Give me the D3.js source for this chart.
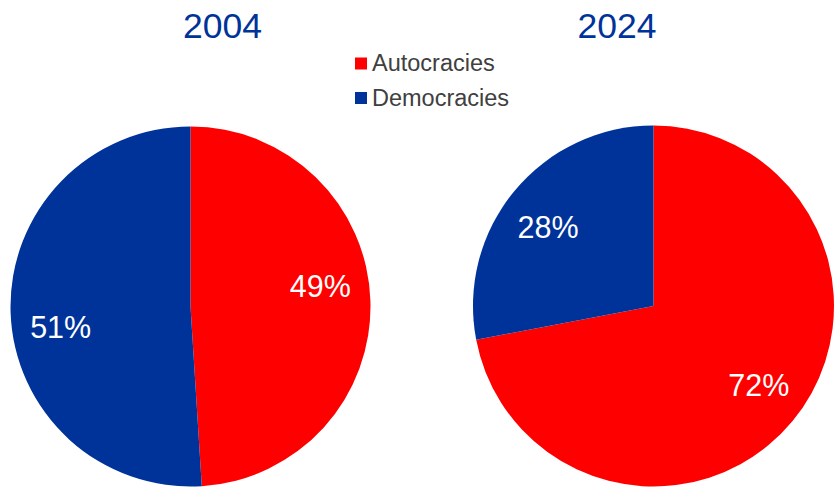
<!DOCTYPE html>
<html>
<head>
<meta charset="utf-8">
<script src="https://cdn.jsdelivr.net/npm/d3@7"></script>
<style>
  html, body { margin: 0; padding: 0; background: #ffffff; }
  svg { display: block; font-family: "Liberation Sans", Arial, sans-serif; }
</style>
</head>
<body>
<svg id="chart" width="836" height="493"></svg>
<script>
// ---- data ----
const years = ["2004", "2024"];
const categories = ["Autocracies", "Democracies"];
const shares2004 = [49, 51];
const shares2024 = [72, 28];
const colors = ["#ff0000", "#003399"];

// ---- layout ----
const svg = d3.select("#chart");
const pies = [
  { year: years[0], values: shares2004, cx: 190.5, cy: 306.5, r: 180, titleX: 222.5, labelShift: -7 },
  { year: years[1], values: shares2024, cx: 653.5, cy: 306, r: 180.5, titleX: 617, labelShift: -2.7 }
];

const color = d3.scaleOrdinal().domain(categories).range(colors);
const pie = d3.pie().sort(null).value(d => d.value);

pies.forEach(p => {
  const data = categories.map((c, i) => ({ cat: c, value: p.values[i] }));
  const arcs = pie(data);
  const arc = d3.arc().innerRadius(0).outerRadius(p.r);
  const g = svg.append("g").attr("transform", `translate(${p.cx},${p.cy})`);
  g.selectAll("path").data(arcs).join("path")
    .attr("d", arc)
    .attr("fill", d => color(d.data.cat));

  const lr = p.r * 0.73;
  const shift = p.labelShift * Math.PI / 180;
  g.selectAll("text.lbl").data(arcs).join("text")
    .attr("class", "lbl")
    .attr("x", d => lr * Math.sin((d.startAngle + d.endAngle) / 2 + shift))
    .attr("y", d => -lr * Math.cos((d.startAngle + d.endAngle) / 2 + shift))
    .attr("dy", "0.36em")
    .attr("text-anchor", "middle")
    .attr("fill", "#ffffff")
    .attr("font-size", 30.5)
    .text(d => d.data.value + "%");

  svg.append("text")
    .attr("x", p.titleX)
    .attr("y", 37.5)
    .attr("text-anchor", "middle")
    .attr("fill", "#003399")
    .attr("font-size", 35.5)
    .text(p.year);
});

// ---- legend ----
const legend = svg.append("g");
const legendY = [71, 105.5];
categories.forEach((c, i) => {
  legend.append("rect")
    .attr("x", 355).attr("y", legendY[i] - 13.5)
    .attr("width", 12).attr("height", 12)
    .attr("fill", color(c));
  legend.append("text")
    .attr("x", 372).attr("y", legendY[i])
    .attr("fill", "#404040")
    .attr("font-size", 23.5)
    .text(c);
});
</script>
</body>
</html>
